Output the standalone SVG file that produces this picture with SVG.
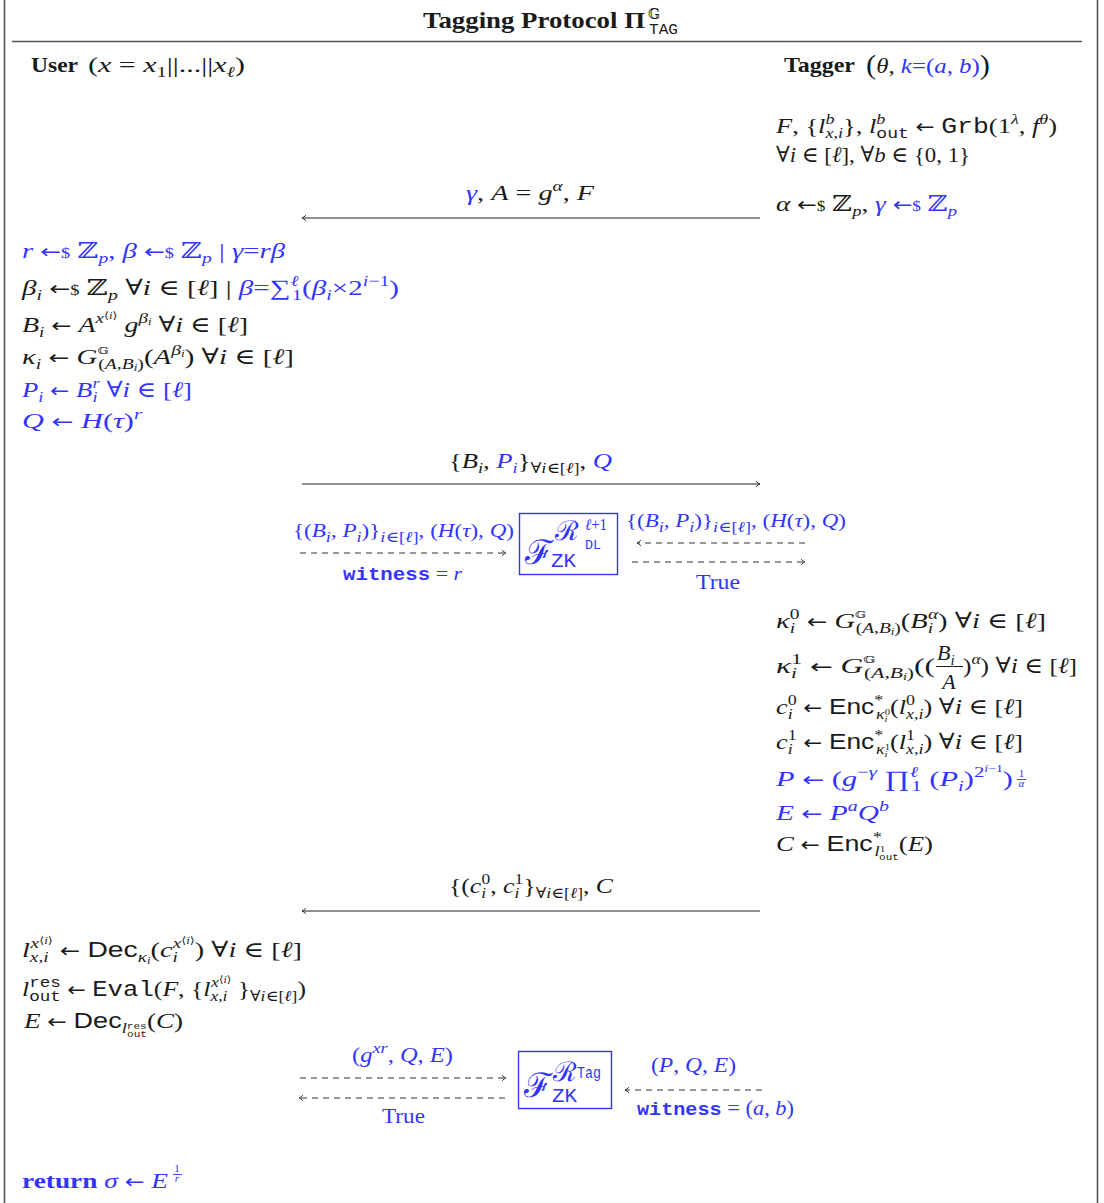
<svg xmlns="http://www.w3.org/2000/svg" width="1104" height="1203" viewBox="0 0 1104 1203">
<style>
.t{font-family:"Liberation Serif","DejaVu Serif",serif;font-size:22px;fill:#1a1a1a}
.b{fill:#3333ff}
.i{font-style:italic}
.bd{font-weight:bold}
.sf{font-family:"Liberation Sans","DejaVu Sans",sans-serif}
.tt{font-family:"Liberation Mono","DejaVu Sans Mono",monospace}
.bb{font-family:"DejaVu Serif",serif;font-style:normal}
.ar{font-family:"DejaVu Sans",sans-serif;font-size:19px}
.sp{font-size:15px;baseline-shift:9px}
.sb{font-size:15px;baseline-shift:-5px}
.sm{font-size:14px}
.frame{stroke:#555;stroke-width:1.6;fill:none}
.msg{stroke:#222;stroke-width:1.2;fill:none}
.dash{stroke:#333;stroke-width:1.1;fill:none;stroke-dasharray:6 5}
.zk{stroke:#3333ff;stroke-width:1.4;fill:#fff}
.ah{fill:none;stroke:#222;stroke-width:1.1}
.bar{stroke:#1a1a1a;stroke-width:1}
.barb{stroke:#3333ff;stroke-width:0.9}
</style>
<defs>
<marker id="arr" viewBox="0 0 10 10" refX="9" refY="5" markerWidth="8" markerHeight="8" markerUnits="userSpaceOnUse" orient="auto-start-reverse">
<path class="ah" d="M4,1.5 Q6.5,4 9,5 Q6.5,6 4,8.5"/>
</marker>
</defs>

<g id="frame">
<line class="frame" x1="4.5" y1="0" x2="4.5" y2="1203"/>
<line class="frame" x1="1097.5" y1="0" x2="1097.5" y2="1203"/>
<line class="frame" x1="12" y1="41.5" x2="1082" y2="41.5"/>
</g>

<g id="title">
<text class="t bd" x="423" y="28" style="font-size:24px" textLength="222" lengthAdjust="spacingAndGlyphs">Tagging Protocol Π</text>
<text class="t bb" x="648" y="19" style="font-size:14px">𝔾</text>
<text class="t tt" x="649" y="34" style="font-size:14px" textLength="29" lengthAdjust="spacingAndGlyphs">TAG</text>
</g>

<g id="user-header">
<text class="t bd" x="31" y="72" textLength="47" lengthAdjust="spacingAndGlyphs">User</text>
<text class="t" x="88" y="72" textLength="157" lengthAdjust="spacingAndGlyphs">(<tspan class="i">x</tspan> = <tspan class="i">x</tspan><tspan class="sb">1</tspan>||...||<tspan class="i">x</tspan><tspan class="sb i">ℓ</tspan>)</text>
</g>
<g id="tagger-header">
<text class="t bd" x="784" y="72" textLength="71" lengthAdjust="spacingAndGlyphs">Tagger</text>
<text class="t" x="866" y="73" textLength="124" lengthAdjust="spacingAndGlyphs"><tspan font-size="27" baseline-shift="-1">(</tspan><tspan class="i">θ</tspan>, <tspan class="b"><tspan class="i">k</tspan>=(<tspan class="i">a</tspan>, <tspan class="i">b</tspan>)</tspan><tspan font-size="27" baseline-shift="-1">)</tspan></text>
</g>

<g id="tagger-garble">
<text class="t" x="776" y="133" textLength="281" lengthAdjust="spacingAndGlyphs"><tspan class="i">F</tspan>, {<tspan class="i">l</tspan><tspan class="sp i">b</tspan><tspan class="sb i" dx="-7.5">x,i</tspan>}, <tspan class="i">l</tspan><tspan class="sp i">b</tspan><tspan class="sb tt" dx="-7.5">out</tspan> <tspan class="ar">←</tspan> <tspan class="tt">Grb</tspan>(1<tspan class="sp i">λ</tspan>, <tspan class="i">f</tspan><tspan class="sp i">θ</tspan>)</text>
<text class="t" x="776" y="162" textLength="194" lengthAdjust="spacingAndGlyphs">∀<tspan class="i">i</tspan> ∈ [<tspan class="i">ℓ</tspan>], ∀<tspan class="i">b</tspan> ∈ {0, 1}</text>
<text class="t" x="776" y="211" textLength="181" lengthAdjust="spacingAndGlyphs"><tspan class="i">α</tspan> <tspan class="ar">←</tspan><tspan class="sm">$</tspan> <tspan class="bb">ℤ</tspan><tspan class="sb i">p</tspan>, <tspan class="b"><tspan class="i">γ</tspan> <tspan class="ar">←</tspan><tspan class="sm">$</tspan> <tspan class="bb">ℤ</tspan><tspan class="sb i">p</tspan></tspan></text>
</g>

<g id="user-commit">
<text class="t b" x="22" y="258" textLength="263" lengthAdjust="spacingAndGlyphs"><tspan class="i">r</tspan> <tspan class="ar">←</tspan><tspan class="sm">$</tspan> <tspan class="bb">ℤ</tspan><tspan class="sb i">p</tspan>, <tspan class="i">β</tspan> <tspan class="ar">←</tspan><tspan class="sm">$</tspan> <tspan class="bb">ℤ</tspan><tspan class="sb i">p</tspan>  | <tspan class="i">γ</tspan>=<tspan class="i">rβ</tspan></text>
<text class="t" x="22" y="295" textLength="377" lengthAdjust="spacingAndGlyphs"><tspan class="i">β</tspan><tspan class="sb i">i</tspan> <tspan class="ar">←</tspan><tspan class="sm">$</tspan> <tspan class="bb">ℤ</tspan><tspan class="sb i">p</tspan> ∀<tspan class="i">i</tspan> ∈ [<tspan class="i">ℓ</tspan>]  | <tspan class="b"><tspan class="i">β</tspan>=∑<tspan class="sp i">ℓ</tspan><tspan class="sb" dx="-5">1</tspan>(<tspan class="i">β</tspan><tspan class="sb i">i</tspan>×2<tspan class="sp"><tspan class="i">i</tspan>−1</tspan>)</tspan></text>
<text class="t" x="22" y="332" textLength="226" lengthAdjust="spacingAndGlyphs"><tspan class="i">B</tspan><tspan class="sb i">i</tspan> <tspan class="ar">←</tspan> <tspan class="i">A</tspan><tspan class="sp"><tspan class="i">x</tspan><tspan font-size="10" baseline-shift="4">⟨<tspan class="i">i</tspan>⟩</tspan></tspan> <tspan class="i">g</tspan><tspan class="sp"><tspan class="i">β</tspan><tspan font-size="10" class="i" baseline-shift="-2">i</tspan></tspan> ∀<tspan class="i">i</tspan> ∈ [<tspan class="i">ℓ</tspan>]</text>
<text class="t" x="22" y="364" textLength="272" lengthAdjust="spacingAndGlyphs"><tspan class="i">κ</tspan><tspan class="sb i">i</tspan> <tspan class="ar">←</tspan> <tspan class="i">G</tspan><tspan class="bb" font-size="10" baseline-shift="10">𝔾</tspan><tspan class="sb" dx="-8">(<tspan class="i">A</tspan>,<tspan class="i">B</tspan><tspan font-size="10" class="i" baseline-shift="-2">i</tspan>)</tspan>(<tspan class="i">A</tspan><tspan class="sp"><tspan class="i">β</tspan><tspan font-size="10" class="i" baseline-shift="-2">i</tspan></tspan>) ∀<tspan class="i">i</tspan> ∈ [<tspan class="i">ℓ</tspan>]</text>
<text class="t b" x="22" y="397" textLength="170" lengthAdjust="spacingAndGlyphs"><tspan class="i">P</tspan><tspan class="sb i">i</tspan> <tspan class="ar">←</tspan> <tspan class="i">B</tspan><tspan class="sb i">i</tspan><tspan class="sp i" dx="-4">r</tspan> ∀<tspan class="i">i</tspan> ∈ [<tspan class="i">ℓ</tspan>]</text>
<text class="t b" x="22" y="428" textLength="120" lengthAdjust="spacingAndGlyphs"><tspan class="i">Q</tspan> <tspan class="ar">←</tspan> <tspan class="i">H</tspan>(<tspan class="i">τ</tspan>)<tspan class="sp i">r</tspan></text>
</g>

<g id="msg1-label">
<text class="t" x="466" y="200" textLength="128" lengthAdjust="spacingAndGlyphs"><tspan class="b i">γ</tspan>, <tspan class="i">A</tspan> = <tspan class="i">g</tspan><tspan class="sp i">α</tspan>, <tspan class="i">F</tspan></text>
</g>
<g id="msg2-label">
<text class="t" x="449" y="468" textLength="163" lengthAdjust="spacingAndGlyphs">{<tspan class="i">B</tspan><tspan class="sb i">i</tspan>, <tspan class="b"><tspan class="i">P</tspan><tspan class="sb i">i</tspan></tspan>}<tspan class="sb">∀<tspan class="i">i</tspan>∈[<tspan class="i">ℓ</tspan>]</tspan>, <tspan class="b i">Q</tspan></text>
</g>

<g id="zk1">
<rect class="zk" x="519.5" y="513.5" width="98" height="61"/>
<text class="t b" x="525" y="564" style="font-size:34px">ℱ</text>
<text class="t b tt" x="551" y="567" style="font-size:21px" textLength="25" lengthAdjust="spacingAndGlyphs">ZK</text>
<text class="t b" x="555" y="540" style="font-size:27px">ℛ</text>
<text class="t b" x="585" y="530" style="font-size:16px" textLength="22" lengthAdjust="spacingAndGlyphs"><tspan class="i">ℓ</tspan>+1</text>
<text class="t b tt" x="585" y="549" style="font-size:13px" textLength="16" lengthAdjust="spacingAndGlyphs">DL</text>
</g>
<g id="zk1-labels">
<text class="t b" x="293" y="537" style="font-size:19px" textLength="221" lengthAdjust="spacingAndGlyphs">{(<tspan class="i">B</tspan><tspan class="sb i">i</tspan>, <tspan class="i">P</tspan><tspan class="sb i">i</tspan>)}<tspan class="sb"><tspan class="i">i</tspan>∈[<tspan class="i">ℓ</tspan>]</tspan>, (<tspan class="i">H</tspan>(<tspan class="i">τ</tspan>), <tspan class="i">Q</tspan>)</text>
<text class="t b" x="343" y="580" style="font-size:19px" textLength="119" lengthAdjust="spacingAndGlyphs"><tspan class="tt bd" font-size="18">witness</tspan> = <tspan class="i">r</tspan></text>
<text class="t b" x="626" y="527" style="font-size:19px" textLength="220" lengthAdjust="spacingAndGlyphs">{(<tspan class="i">B</tspan><tspan class="sb i">i</tspan>, <tspan class="i">P</tspan><tspan class="sb i">i</tspan>)}<tspan class="sb"><tspan class="i">i</tspan>∈[<tspan class="i">ℓ</tspan>]</tspan>, (<tspan class="i">H</tspan>(<tspan class="i">τ</tspan>), <tspan class="i">Q</tspan>)</text>
<text class="t b" x="696" y="589" style="font-size:21px" textLength="44" lengthAdjust="spacingAndGlyphs">True</text>
</g>

<g id="tagger-encrypt">
<text class="t" x="776" y="628" textLength="270" lengthAdjust="spacingAndGlyphs"><tspan class="i">κ</tspan><tspan class="sb i">i</tspan><tspan class="sp" dx="-4">0</tspan> <tspan class="ar">←</tspan> <tspan class="i">G</tspan><tspan class="bb" font-size="10" baseline-shift="10">𝔾</tspan><tspan class="sb" dx="-8">(<tspan class="i">A</tspan>,<tspan class="i">B</tspan><tspan font-size="10" class="i" baseline-shift="-2">i</tspan>)</tspan>(<tspan class="i">B</tspan><tspan class="sb i">i</tspan><tspan class="sp i" dx="-4">α</tspan>) ∀<tspan class="i">i</tspan> ∈ [<tspan class="i">ℓ</tspan>]</text>
<text class="t" x="776" y="673" textLength="159" lengthAdjust="spacingAndGlyphs"><tspan class="i">κ</tspan><tspan class="sb i">i</tspan><tspan class="sp" dx="-4">1</tspan> <tspan class="ar">←</tspan> <tspan class="i">G</tspan><tspan class="bb" font-size="10" baseline-shift="10">𝔾</tspan><tspan class="sb" dx="-8">(<tspan class="i">A</tspan>,<tspan class="i">B</tspan><tspan font-size="10" class="i" baseline-shift="-2">i</tspan>)</tspan>((</text>
<text class="t" x="937" y="660"><tspan class="i">B</tspan><tspan class="sb i">i</tspan></text>
<line class="bar" x1="936" y1="666.5" x2="963" y2="666.5"/>
<text class="t" x="949" y="689" text-anchor="middle"><tspan class="i">A</tspan></text>
<text class="t" x="963" y="673" textLength="114" lengthAdjust="spacingAndGlyphs">)<tspan class="sp i">α</tspan>) ∀<tspan class="i">i</tspan> ∈ [<tspan class="i">ℓ</tspan>]</text>
<text class="t" x="776" y="714" textLength="247" lengthAdjust="spacingAndGlyphs"><tspan class="i">c</tspan><tspan class="sb i">i</tspan><tspan class="sp" dx="-4">0</tspan> <tspan class="ar">←</tspan> <tspan class="sf">Enc</tspan><tspan class="sp">*</tspan><tspan class="sb" dx="-6"><tspan class="i">κ</tspan><tspan font-size="9" class="i" baseline-shift="-3">i</tspan><tspan font-size="9" dx="-2.5" baseline-shift="4">0</tspan></tspan>(<tspan class="i">l</tspan><tspan class="sp">0</tspan><tspan class="sb i" dx="-7.5">x,i</tspan>) ∀<tspan class="i">i</tspan> ∈ [<tspan class="i">ℓ</tspan>]</text>
<text class="t" x="776" y="749" textLength="247" lengthAdjust="spacingAndGlyphs"><tspan class="i">c</tspan><tspan class="sb i">i</tspan><tspan class="sp" dx="-4">1</tspan> <tspan class="ar">←</tspan> <tspan class="sf">Enc</tspan><tspan class="sp">*</tspan><tspan class="sb" dx="-6"><tspan class="i">κ</tspan><tspan font-size="9" class="i" baseline-shift="-3">i</tspan><tspan font-size="9" dx="-2.5" baseline-shift="4">1</tspan></tspan>(<tspan class="i">l</tspan><tspan class="sp">1</tspan><tspan class="sb i" dx="-7.5">x,i</tspan>) ∀<tspan class="i">i</tspan> ∈ [<tspan class="i">ℓ</tspan>]</text>
<text class="t b" x="776" y="786" textLength="237" lengthAdjust="spacingAndGlyphs"><tspan class="i">P</tspan> <tspan class="ar">←</tspan> (<tspan class="i">g</tspan><tspan class="sp">−<tspan class="i">γ</tspan></tspan> ∏<tspan class="sp i">ℓ</tspan><tspan class="sb" dx="-5">1</tspan> (<tspan class="i">P</tspan><tspan class="sb i">i</tspan>)<tspan class="sp">2<tspan font-size="10" baseline-shift="5"><tspan class="i">i</tspan>−1</tspan></tspan>)</text>
<text class="t b" x="1021.5" y="777" style="font-size:11px" text-anchor="middle">1</text>
<line class="barb" x1="1017" y1="779.5" x2="1026" y2="779.5"/>
<text class="t b i" x="1021.5" y="787" style="font-size:11px" text-anchor="middle">α</text>
<text class="t b" x="776" y="820" textLength="113" lengthAdjust="spacingAndGlyphs"><tspan class="i">E</tspan> <tspan class="ar">←</tspan> <tspan class="i">P</tspan><tspan class="sp i">a</tspan><tspan class="i">Q</tspan><tspan class="sp i">b</tspan></text>
<text class="t" x="776" y="851" textLength="157" lengthAdjust="spacingAndGlyphs"><tspan class="i">C</tspan> <tspan class="ar">←</tspan> <tspan class="sf">Enc</tspan><tspan class="sp">*</tspan><tspan class="sb" dx="-6"><tspan class="i">l</tspan><tspan font-size="9" baseline-shift="4">1</tspan><tspan class="tt" font-size="9" dx="-5" baseline-shift="-4">out</tspan></tspan>(<tspan class="i">E</tspan>)</text>
</g>

<g id="msg3-label">
<text class="t" x="449" y="893" textLength="164" lengthAdjust="spacingAndGlyphs">{(<tspan class="i">c</tspan><tspan class="sb i">i</tspan><tspan class="sp" dx="-4">0</tspan>, <tspan class="i">c</tspan><tspan class="sb i">i</tspan><tspan class="sp" dx="-4">1</tspan>}<tspan class="sb">∀<tspan class="i">i</tspan>∈[<tspan class="i">ℓ</tspan>]</tspan>, <tspan class="i">C</tspan></text>
</g>

<g id="user-evaluate">
<text class="t" x="22" y="957" textLength="280" lengthAdjust="spacingAndGlyphs"><tspan class="i">l</tspan><tspan class="sb i">x,i</tspan><tspan class="sp" dx="-14"><tspan class="i">x</tspan><tspan font-size="10" baseline-shift="4">⟨<tspan class="i">i</tspan>⟩</tspan></tspan> <tspan class="ar">←</tspan> <tspan class="sf">Dec</tspan><tspan class="sb"><tspan class="i">κ</tspan><tspan font-size="10" class="i" baseline-shift="-2">i</tspan></tspan>(<tspan class="i">c</tspan><tspan class="sb i">i</tspan><tspan class="sp" dx="-4"><tspan class="i">x</tspan><tspan font-size="10" baseline-shift="4">⟨<tspan class="i">i</tspan>⟩</tspan></tspan>) ∀<tspan class="i">i</tspan> ∈ [<tspan class="i">ℓ</tspan>]</text>
<text class="t" x="22" y="996" textLength="284" lengthAdjust="spacingAndGlyphs"><tspan class="i">l</tspan><tspan class="sp tt">res</tspan><tspan class="sb tt" dx="-27">out</tspan> <tspan class="ar">←</tspan> <tspan class="tt">Eval</tspan>(<tspan class="i">F</tspan>, {<tspan class="i">l</tspan><tspan class="sb i">x,i</tspan><tspan class="sp" dx="-14"><tspan class="i">x</tspan><tspan font-size="10" baseline-shift="4">⟨<tspan class="i">i</tspan>⟩</tspan></tspan> }<tspan class="sb">∀<tspan class="i">i</tspan>∈[<tspan class="i">ℓ</tspan>]</tspan>)</text>
<text class="t" x="24" y="1028" textLength="159" lengthAdjust="spacingAndGlyphs"><tspan class="i">E</tspan> <tspan class="ar">←</tspan> <tspan class="sf">Dec</tspan><tspan class="sb"><tspan class="i">l</tspan><tspan class="tt" font-size="9" baseline-shift="4">res</tspan><tspan class="tt" font-size="9" dx="-16" baseline-shift="-4">out</tspan></tspan>(<tspan class="i">C</tspan>)</text>
</g>

<g id="zk2">
<rect class="zk" x="518.5" y="1051.5" width="93" height="57"/>
<text class="t b" x="524" y="1097" style="font-size:34px">ℱ</text>
<text class="t b tt" x="552" y="1102" style="font-size:21px" textLength="25" lengthAdjust="spacingAndGlyphs">ZK</text>
<text class="t b" x="553" y="1081" style="font-size:27px">ℛ</text>
<text class="t b tt" x="577" y="1078" style="font-size:16px" textLength="24" lengthAdjust="spacingAndGlyphs">Tag</text>
</g>
<g id="zk2-labels">
<text class="t b" x="352" y="1062" style="font-size:20px" textLength="101" lengthAdjust="spacingAndGlyphs">(<tspan class="i">g</tspan><tspan class="sp i">xr</tspan>, <tspan class="i">Q</tspan>, <tspan class="i">E</tspan>)</text>
<text class="t b" x="382" y="1123" style="font-size:21px" textLength="43" lengthAdjust="spacingAndGlyphs">True</text>
<text class="t b" x="651" y="1072" style="font-size:20px" textLength="85" lengthAdjust="spacingAndGlyphs">(<tspan class="i">P</tspan>, <tspan class="i">Q</tspan>, <tspan class="i">E</tspan>)</text>
<text class="t b" x="637" y="1115" style="font-size:20px" textLength="157" lengthAdjust="spacingAndGlyphs"><tspan class="tt bd" font-size="18">witness</tspan> = (<tspan class="i">a</tspan>, <tspan class="i">b</tspan>)</text>
</g>

<g id="user-return">
<text class="t b" x="22" y="1188" textLength="146" lengthAdjust="spacingAndGlyphs"><tspan class="bd">return</tspan> <tspan class="i">σ</tspan> <tspan class="ar">←</tspan> <tspan class="i">E</tspan></text>
<text class="t b" x="177" y="1172" style="font-size:11px" text-anchor="middle">1</text>
<line class="barb" x1="173" y1="1174.5" x2="182" y2="1174.5"/>
<text class="t b i" x="177" y="1182" style="font-size:11px" text-anchor="middle">r</text>
</g>

<g id="connectors">
<line class="msg" x1="760" y1="218" x2="302" y2="218" marker-end="url(#arr)"/>
<line class="msg" x1="302" y1="484" x2="760" y2="484" marker-end="url(#arr)"/>
<line class="msg" x1="760" y1="911" x2="302" y2="911" marker-end="url(#arr)"/>
<line class="dash" x1="300" y1="553" x2="506" y2="553" marker-end="url(#arr)"/>
<line class="dash" x1="805" y1="543" x2="637" y2="543" marker-end="url(#arr)"/>
<line class="dash" x1="632" y1="562" x2="805" y2="562" marker-end="url(#arr)"/>
<line class="dash" x1="300" y1="1078" x2="506" y2="1078" marker-end="url(#arr)"/>
<line class="dash" x1="505" y1="1098" x2="299" y2="1098" marker-end="url(#arr)"/>
<line class="dash" x1="762" y1="1090" x2="625" y2="1090" marker-end="url(#arr)"/>
</g>
</svg>
